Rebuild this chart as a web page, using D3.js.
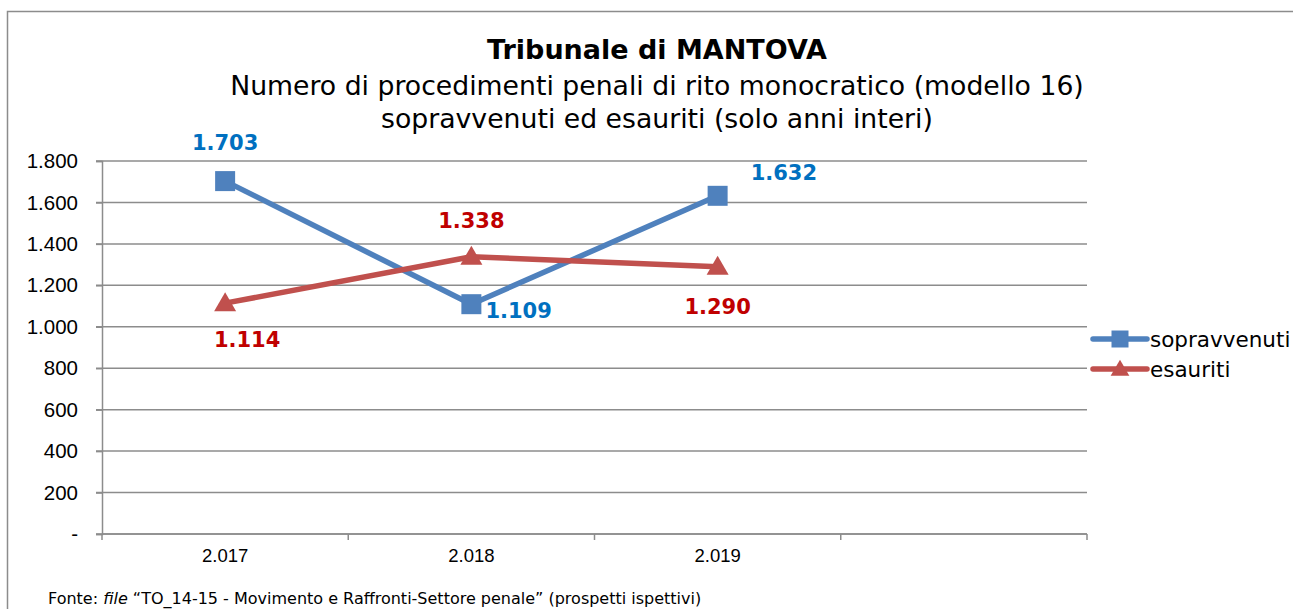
<!DOCTYPE html>
<html lang="it">
<head>
<meta charset="utf-8">
<title>Tribunale di MANTOVA</title>
<script src="https://cdn.jsdelivr.net/npm/d3@7/dist/d3.min.js"></script>
<style>
  body { margin: 0; background: #fff; }
  .tick text { font-family: "Liberation Sans", Arial, sans-serif; }
</style>
</head>
<body>
<div id="chart"></div>
<script>
// ---- data ----
var categories = ["2.017", "2.018", "2.019", ""];
var sopravvenuti = [1703, 1109, 1632];
var esauriti = [1114, 1338, 1290];
var yTicks = [0, 200, 400, 600, 800, 1000, 1200, 1400, 1600, 1800];
var seriesNames = ["sopravvenuti", "esauriti"];

var W = 1293, H = 609;
var plot = { left: 102, right: 1087, top: 161, bottom: 534 };

var svg = d3.select("#chart").append("svg")
  .attr("width", W)
  .attr("height", H);

// outer frame
svg.append("rect")
  .attr("x", 7.5).attr("y", 11.5)
  .attr("width", W).attr("height", H)
  .attr("fill", "none")
  .attr("stroke", "#8c8c8c")
  .attr("stroke-width", 1.5);

var x = d3.scaleBand()
  .domain(categories)
  .range([plot.left, plot.right]);

var y = d3.scaleLinear()
  .domain([0, 1800])
  .range([plot.bottom, plot.top]);

var fmt = function(v) { return v === 0 ? "-" : d3.format(",")(v).replace(/,/g, "."); };

// gridlines
svg.append("g")
  .selectAll("line")
  .data(yTicks)
  .enter().append("line")
    .attr("x1", plot.left - 6)
    .attr("x2", plot.right)
    .attr("y1", function(d) { return y(d); })
    .attr("y2", function(d) { return y(d); })
    .attr("stroke", "#8c8c8c")
    .attr("stroke-width", 1.5);

// y axis
var yAxis = svg.append("g")
  .attr("transform", "translate(" + plot.left + ",0)")
  .call(d3.axisLeft(y).tickValues(yTicks).tickFormat(fmt).tickSize(6).tickPadding(18));
yAxis.select(".domain").attr("stroke", "#8c8c8c").attr("stroke-width", 1.5);
yAxis.selectAll(".tick line").attr("stroke", "#8c8c8c").attr("stroke-width", 1.5);
yAxis.selectAll(".tick text").attr("font-size", 20.5).attr("fill", "#000");

// x axis
var xAxis = svg.append("g")
  .attr("transform", "translate(0," + plot.bottom + ")")
  .call(d3.axisBottom(x).tickSize(0).tickPadding(15));
xAxis.select(".domain").remove();
xAxis.selectAll(".tick text").attr("font-size", 18.5).attr("fill", "#000");
svg.append("line")
  .attr("x1", plot.left).attr("x2", plot.right)
  .attr("y1", plot.bottom).attr("y2", plot.bottom)
  .attr("stroke", "#8c8c8c").attr("stroke-width", 1.5);
svg.append("g")
  .selectAll("line")
  .data(categories.map(function(c) { return x(c); }).concat([plot.right]))
  .enter().append("line")
    .attr("x1", function(d) { return d; })
    .attr("x2", function(d) { return d; })
    .attr("y1", plot.bottom)
    .attr("y2", plot.bottom + 6)
    .attr("stroke", "#8c8c8c")
    .attr("stroke-width", 1.5);

var cx = function(i) { return x(categories[i]) + x.bandwidth() / 2; };

var line = d3.line()
  .x(function(d, i) { return cx(i); })
  .y(function(d) { return y(d); });

var blue = "#4f81bd", red = "#c0504d";
var blueLbl = "#0070c0", redLbl = "#c00000";

// lines
svg.append("path").datum(sopravvenuti)
  .attr("fill", "none").attr("stroke", blue).attr("stroke-width", 5.5)
  .attr("stroke-linejoin", "round").attr("d", line);
svg.append("path").datum(esauriti)
  .attr("fill", "none").attr("stroke", red).attr("stroke-width", 5.5)
  .attr("stroke-linejoin", "round").attr("d", line);

// markers
var sq = "M-10,-10H10V10H-10Z";
var tri = "M0,-11L11,8H-11Z";

svg.append("g").selectAll("path")
  .data(sopravvenuti)
  .enter().append("path")
    .attr("d", sq)
    .attr("fill", blue)
    .attr("transform", function(d, i) { return "translate(" + cx(i) + "," + y(d) + ")"; });

svg.append("g").selectAll("path")
  .data(esauriti)
  .enter().append("path")
    .attr("d", tri)
    .attr("fill", red)
    .attr("transform", function(d, i) { return "translate(" + cx(i) + "," + y(d) + ")"; });

// data labels (offsets relative to point)
var blueOff = [[0, -38, "middle"], [14, 6, "start"], [33, -23, "start"]];
var redOff = [[22, 36, "middle"], [0, -36, "middle"], [0, 40, "middle"]];

function labels(data, off, color) {
  svg.append("g").selectAll("text")
    .data(data)
    .enter().append("text")
      .attr("x", function(d, i) { return cx(i) + off[i][0]; })
      .attr("y", function(d, i) { return y(d) + off[i][1]; })
      .attr("dy", "0.35em")
      .attr("text-anchor", function(d, i) { return off[i][2]; })
      .attr("font-family", "'DejaVu Sans', Verdana, sans-serif")
      .attr("font-weight", "bold")
      .attr("font-size", 21)
      .attr("fill", color)
      .text(fmt);
}
labels(sopravvenuti, blueOff, blueLbl);
labels(esauriti, redOff, redLbl);

// titles
var titleFont = "'DejaVu Sans', Verdana, sans-serif";
svg.append("text")
  .attr("x", 657).attr("y", 59)
  .attr("text-anchor", "middle")
  .attr("font-family", titleFont).attr("font-weight", "bold").attr("font-size", 27)
  .text("Tribunale di MANTOVA");
svg.append("text")
  .attr("x", 657).attr("y", 95)
  .attr("text-anchor", "middle")
  .attr("font-family", titleFont).attr("font-size", 26.7)
  .text("Numero di procedimenti penali di rito monocratico (modello 16)");
svg.append("text")
  .attr("x", 657).attr("y", 128)
  .attr("text-anchor", "middle")
  .attr("font-family", titleFont).attr("font-size", 26.7)
  .text("sopravvenuti ed esauriti (solo anni interi)");

// legend
var legend = svg.append("g").attr("transform", "translate(1093,339)");
[[blue, sq], [red, tri]].forEach(function(s, i) {
  var g = legend.append("g").attr("transform", "translate(0," + (i * 30) + ")");
  g.append("line").attr("x1", 0).attr("x2", 54)
    .attr("stroke", s[0]).attr("stroke-width", 5.5).attr("stroke-linecap", "round");
  g.append("path").attr("d", s[1]).attr("fill", s[0])
    .attr("transform", "translate(27,0) scale(0.85)");
  g.append("text").attr("x", 57).attr("dy", "0.35em")
    .attr("font-family", titleFont).attr("font-size", 21.5)
    .text(seriesNames[i]);
});

// source note
var note = svg.append("text")
  .attr("x", 48).attr("y", 604)
  .attr("font-family", titleFont).attr("font-size", 16);
note.append("tspan").text("Fonte: ");
note.append("tspan").attr("font-style", "italic").text("file");
note.append("tspan").text(" \u201cTO_14-15 - Movimento e Raffronti-Settore penale\u201d (prospetti ispettivi)");
</script>
</body>
</html>
